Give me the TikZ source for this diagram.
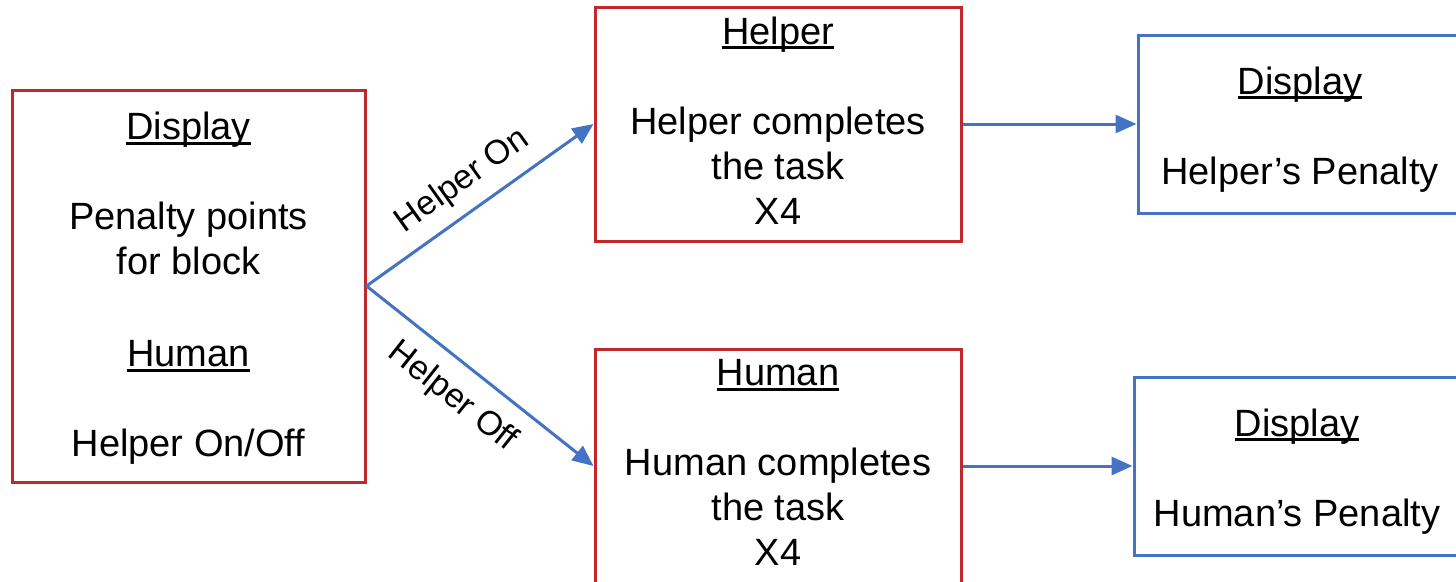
\documentclass[tikz,border=0pt]{standalone}
\usepackage{fontspec}
\setmainfont{Liberation Sans}
\usetikzlibrary{arrows.meta}
\definecolor{boxred}{RGB}{192,40,45}
\definecolor{linkblue}{RGB}{68,114,196}
\newcommand\myul[1]{\setbox0\hbox{#1}\rlap{\rule[-5pt]{\wd0}{2.8pt}}\box0}
\newcommand\topstrut{\rule{0pt}{38pt}}
\newcommand\halfstrut{\rule{0pt}{32pt}}
\newcommand\botstrut{\rule[-7pt]{0pt}{7pt}}
\begin{document}
\begin{tikzpicture}[x=1pt,y=-1pt,
  boxbase/.style={line width=3pt, inner sep=0pt, align=center, font=\fontsize{38}{45}\selectfont},
  redbox/.style={boxbase, draw=boxred},
  bluebox/.style={boxbase, draw=linkblue},
  link/.style={draw=linkblue, line width=3pt, -{Triangle[length=21pt,width=18pt]}},
  lbl/.style={font=\fontsize{34}{40}\selectfont, sloped}]
\useasboundingbox (0,0) rectangle (1456,581);
\clip (0,0) rectangle (1456,581);
\fill[white] (0,0) rectangle (1456,581);
\node[redbox, minimum width=353pt, minimum height=392pt] (ctrl) at (188.5,286)
  {\halfstrut\myul{Display}\\[45pt] Penalty points\\ for block\\[47pt] \myul{Human}\\[45pt] Helper On/Off};
\node[redbox, minimum width=366pt, minimum height=234pt] (helper) at (778,124)
  {\myul{Helper}\\[45pt] Helper completes\\ the task\\ X4\botstrut};
\node[redbox, minimum width=366pt, minimum height=234pt] (human) at (778,466)
  {\myul{Human}\\[45pt] Human completes\\ the task\\ X4\botstrut};
\node[bluebox, minimum width=324pt, minimum height=178pt] (dhelper) at (1300,124)
  {\topstrut\myul{Display}\\[45pt] Helper’s Penalty};
\node[bluebox, minimum width=326pt, minimum height=178pt] (dhuman) at (1297,466)
  {\topstrut\myul{Display}\\[45pt] Human’s Penalty};
\draw[link] (ctrl.east) -- node[lbl, above=9pt] {Helper On} (helper.west);
\draw[link] (ctrl.east) -- node[lbl, below=13pt, pos=0.47] {Helper Off} (human.west);
\draw[link] (helper.east) -- (dhelper.west);
\draw[link] (human.east) -- (dhuman.west);
\end{tikzpicture}
\end{document}
